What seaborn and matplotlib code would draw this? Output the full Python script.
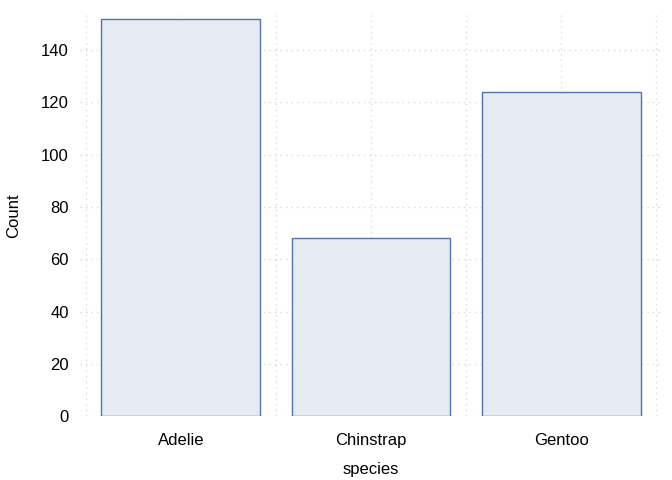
import numpy as np
import pandas as pd
import matplotlib
matplotlib.use('Agg')
import matplotlib.pyplot as plt
import seaborn as sns
from matplotlib.ticker import MultipleLocator

# Penguin counts per species
species = ['Adelie', 'Chinstrap', 'Gentoo']
counts = [152, 68, 124]

df = pd.DataFrame({'species': species, 'Count': counts})

sns.set_style('white')
plt.rcParams['font.family'] = ['Liberation Sans', 'DejaVu Sans']

fig = plt.figure(figsize=(6.72, 4.8), dpi=100)
ax = fig.add_axes([0.119, 0.133, 0.866, 0.836])

sns.barplot(data=df, x='species', y='Count', color='#e6eaf3', edgecolor='#5672a8',
            linewidth=1.0, width=0.835, saturation=1, ax=ax, zorder=2)

ax.set_xlim(-0.53, 2.53)
ax.set_ylim(0, 153.5)
ax.yaxis.set_major_locator(MultipleLocator(20))
ax.xaxis.set_minor_locator(MultipleLocator(0.5))
ax.grid(True, which='both', axis='x', color='#d9d9d9', linestyle=(0, (1, 3)), linewidth=1.0, zorder=0)
ax.grid(True, which='major', axis='y', color='#d9d9d9', linestyle=(0, (1, 3)), linewidth=1.0, zorder=0)
ax.set_axisbelow(True)

for s in ax.spines.values():
    s.set_visible(False)

ax.tick_params(axis='y', which='both', length=0, labelsize=12, colors='black', pad=8)
ax.tick_params(axis='x', which='both', length=0, labelsize=12, colors='black', pad=12)
ax.set_xlabel('species', fontsize=12, labelpad=10, color='black')
ax.set_ylabel('Count', fontsize=12, labelpad=14, color='black')

fig.savefig('out.png', dpi=100)
